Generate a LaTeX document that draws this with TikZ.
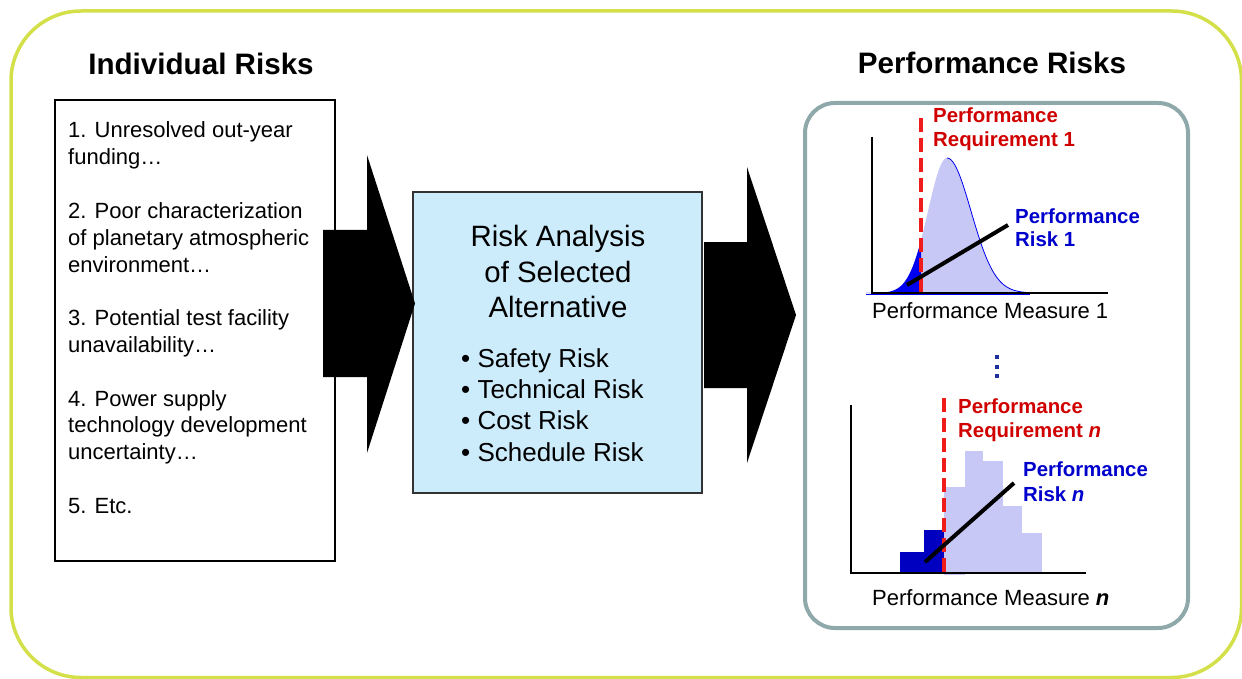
\documentclass[tikz,border=0pt]{standalone}
\usepackage{fontspec}
\setmainfont{Liberation Sans}
\definecolor{frameY}{HTML}{D4E04A}
\definecolor{panelG}{HTML}{8FA9AA}
\definecolor{boxBlue}{HTML}{CCEBFB}
\definecolor{reqRed}{HTML}{D00000}
\definecolor{dashRed}{HTML}{F01C1C}
\definecolor{riskBlue}{HTML}{0000CC}
\definecolor{lav}{HTML}{C8C8F6}
\definecolor{tailBlue}{HTML}{0000F0}
\definecolor{histBlue}{HTML}{0000C0}
\definecolor{dotBlue}{HTML}{1F2F9F}
\begin{document}
\begin{tikzpicture}[x=1pt,y=-1pt,
  declare function={gl(\x)=293-135*exp(-((\x-947)/19)*((\x-947)/19)/2);
                    gr(\x)=293-135*exp(-((\x-947)/24)*((\x-947)/24)/2);},
  hdr/.style={inner sep=0, anchor=base, font=\fontsize{29.6}{34}\selectfont\bfseries},
  itemtxt/.style={inner sep=0, anchor=base west, font=\fontsize{22}{26}\selectfont},
  titletxt/.style={inner sep=0, anchor=base, font=\fontsize{29.4}{35}\selectfont},
  bullettxt/.style={inner sep=0, anchor=base west, font=\fontsize{26}{31}\selectfont},
  redlbl/.style={inner sep=0, anchor=base west, text=reqRed, font=\fontsize{20.4}{24}\selectfont\bfseries},
  bluelbl/.style={inner sep=0, anchor=base west, text=riskBlue, font=\fontsize{20.4}{24}\selectfont\bfseries},
  measlbl/.style={inner sep=0, anchor=base west, font=\fontsize{22}{26}\selectfont},
  axisline/.style={line width=2.2pt, black},
  reqline/.style={line width=3.5pt, dashRed, dash pattern=on 14pt off 6pt},
  ptrline/.style={line width=4pt, black},
  blockarrow/.style={fill=black},
]
\useasboundingbox (0,0) rectangle (1242,679);
\clip (0,0) rectangle (1242,679);
\fill[white] (0,0) rectangle (1242,679);

% outer frame
\draw[frameY, line width=3.5pt, rounded corners=70pt] (11,11) rectangle (1241.5,677.5);

% headers
\node[hdr] (h1) at (201,75) {Individual Risks};
\node[hdr] (h2) at (992,74) {Performance Risks};

% left box
\node[draw, line width=1.5pt, minimum width=280pt, minimum height=461pt, inner sep=0] (risks) at (195,330.5) {};
\foreach \t/\k in {1. Unresolved out-year/0, funding…/1,
   2. Poor characterization/3, of planetary atmospheric/4, environment…/5,
   3. Potential test facility/7, unavailability…/8,
   4. Power supply/10, technology development/11, uncertainty…/12,
   5. Etc./14}{
  \node[itemtxt] (li\k) at (68,{138+26.8*\k}) {\t};
}

% analysis box
\node[draw=black!80, fill=boxBlue, line width=1.5pt, minimum width=289pt, minimum height=301pt, inner sep=0] (ana) at (557.5,342.5) {};
\node[titletxt] (t1) at (558,247) {Risk Analysis};
\node[titletxt] (t2) at (558,282) {of Selected};
\node[titletxt] (t3) at (558,317) {Alternative};
\node[bullettxt] (b1) at (461,367) {• Safety Risk};
\node[bullettxt] (b2) at (461,398.3) {• Technical Risk};
\node[bullettxt] (b3) at (461,429.6) {• Cost Risk};
\node[bullettxt] (b4) at (461,461) {• Schedule Risk};

% block arrows
\fill[blockarrow] (323,230) -- (367,230) -- (367,155) -- (415,303.5) -- (367,453) -- (367,377) -- (323,377) -- cycle;
\fill[blockarrow] (704,242) -- (747,242) -- (747,167) -- (796,315) -- (747,463) -- (747,388) -- (704,388) -- cycle;

% performance panel
\node[draw=panelG, line width=4pt, rounded corners=30pt, minimum width=383pt, minimum height=525pt, inner sep=0] (perf) at (996.5,365.5) {};

% chart 1
\fill[lav] (921,293) -- plot[domain=921:947, samples=30] (\x,{gl(\x)}) -- plot[domain=947:1035, samples=60] (\x,{gr(\x)}) -- (1035,293) -- cycle;
\fill[tailBlue] (866,293) -- plot[domain=866:921, samples=40] (\x,{gl(\x)}) -- (921,293) -- cycle;
\draw[tailBlue, line width=0.8pt] plot[domain=947:1035, samples=60] (\x,{gr(\x)});
\draw[tailBlue, line width=1pt] (866,294.5) -- (1030,294.5);
\draw[axisline] (872,137) -- (872,293) -- (1108,293);
\draw[reqline] (921,118) -- (921,293);
\draw[ptrline] (907,285) -- (1008,225);
\node[redlbl] (r1a) at (933,123) {Performance};
\node[redlbl] (r1b) at (933,147) {Requirement 1};
\node[bluelbl] (k1a) at (1015,223) {Performance};
\node[bluelbl] (k1b) at (1015,247) {Risk 1};
\node[measlbl] (m1) at (872,318) {Performance Measure 1};

% vertical dots
\fill[dotBlue] (994.5,354.5) rectangle +(4.5,4.5);
\fill[dotBlue] (994.5,364.5) rectangle +(4.5,4.5);
\fill[dotBlue] (994.5,373.5) rectangle +(4.5,4.5);

% chart 2
\fill[lav] (944,575) rectangle (965,487);
\fill[lav] (965,573) rectangle (983,451);
\fill[lav] (983,573) rectangle (1003,461);
\fill[lav] (1003,573) rectangle (1022,506);
\fill[lav] (1022,573) rectangle (1042,533);
\fill[histBlue] (900,573) rectangle (924,552);
\fill[histBlue] (924,573) rectangle (944,530);
\draw[axisline] (851,405) -- (851,573) -- (1086,573);
\draw[reqline] (944,398) -- (944,573);
\draw[ptrline] (925,562) -- (1014,483);
\node[redlbl] (r2a) at (958,413) {Performance};
\node[redlbl] (r2b) at (958,437) {Requirement \textit{n}};
\node[bluelbl] (k2a) at (1023,476) {Performance};
\node[bluelbl] (k2b) at (1023,501) {Risk \textit{n}};
\node[measlbl] (m2) at (872,605) {Performance Measure \textbf{\textit{n}}};
\end{tikzpicture}
\end{document}
